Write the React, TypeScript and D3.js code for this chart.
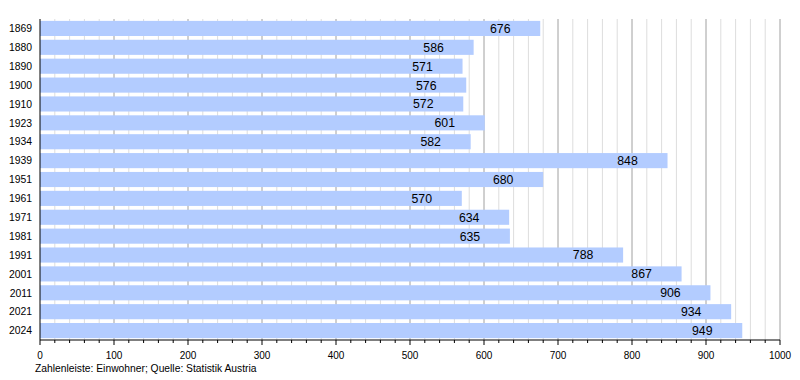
import React from "react";
import * as d3 from "d3";

const years = ["1869","1880","1890","1900","1910","1923","1934","1939","1951","1961","1971","1981","1991","2001","2011","2021","2024"];
const population = [676,586,571,576,572,601,582,848,680,570,634,635,788,867,906,934,949];
const majorTicks = [0,100,200,300,400,500,600,700,800,900,1000];
const minorTicks = d3.range(0, 1001, 20);
const footer = "Zahlenleiste: Einwohner; Quelle: Statistik Austria";

const W = 800, H = 380;
const left = 40, right = 780, top = 19, bottom = 340;

export default function App() {
  const x = d3.scaleLinear().domain([0, 1000]).range([left, right]);
  const y = d3.scaleBand<string>().domain(years).range([top, bottom]).paddingInner(0.2).paddingOuter(0.1);
  const font = "Liberation Sans, Arial, sans-serif";
  return (
    <svg width={W} height={H} style={{ position: "absolute", left: 0, top: 0, background: "#fff" }} fontFamily={font}>
      {minorTicks.filter(t => t % 100 !== 0).map(t => (
        <line key={"m" + t} x1={x(t)} x2={x(t)} y1={top} y2={bottom} stroke="#dddddd" strokeWidth={1} />
      ))}
      {majorTicks.filter(t => t !== 0).map(t => (
        <line key={"M" + t} x1={x(t)} x2={x(t)} y1={top} y2={bottom} stroke="#a0a0a0" strokeWidth={1} />
      ))}
      {years.map((yr, i) => (
        <g key={yr}>
          <rect x={x(0)} y={y(yr)!} width={x(population[i]) - x(0)} height={y.bandwidth()} fill="#b3ccff" />
          <text x={x(population[i]) - 40} y={y(yr)! + y.bandwidth() / 2} dy="0.36em" textAnchor="middle" fontSize={12.3} fill="#000">{population[i]}</text>
          <text x={32} y={y(yr)! + y.bandwidth() / 2} dy="0.36em" textAnchor="end" fontSize={10.4} fill="#000">{yr}</text>
        </g>
      ))}
      <line x1={left} x2={left} y1={top} y2={bottom} stroke="#000" strokeWidth={1} />
      <line x1={left} x2={right} y1={bottom} y2={bottom} stroke="#000" strokeWidth={1} />
      {minorTicks.map(t => (
        <line key={"tk" + t} x1={x(t)} x2={x(t)} y1={bottom} y2={bottom + (t % 100 === 0 ? 5 : 3)} stroke="#000" strokeWidth={1} />
      ))}
      {majorTicks.map(t => (
        <text key={"tl" + t} x={x(t)} y={355.4} dy="0.36em" textAnchor="middle" fontSize={10} fill="#000">{t}</text>
      ))}
      <text x={35} y={372} fontSize={10.3} fill="#000">{footer}</text>
    </svg>
  );
}
